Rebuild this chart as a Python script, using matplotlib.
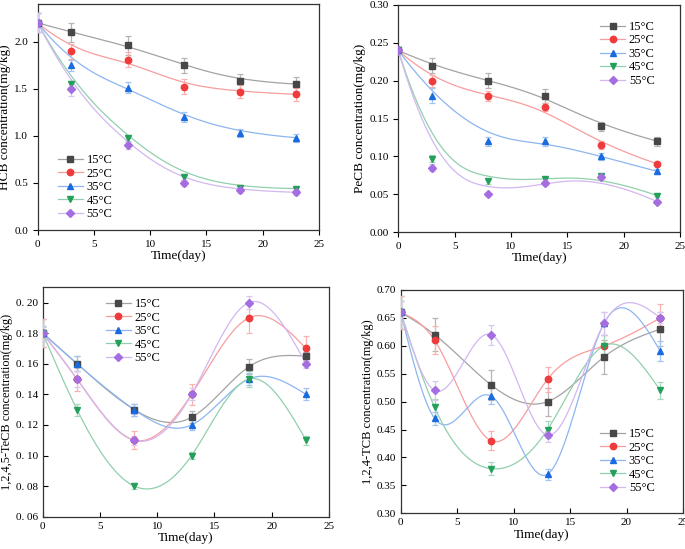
import numpy as np
import matplotlib
matplotlib.use('Agg')
import matplotlib.pyplot as plt
import matplotlib.colors as mpcolors

plt.rcParams['font.family'] = ['Liberation Serif', 'DejaVu Serif']

days = [0, 3, 8, 13, 18, 23]
temps = ['15°C', '25°C', '35°C', '45°C', '55°C']

# HCB
hcb = [[2.2, 2.1, 1.96, 1.75, 1.58, 1.55],
       [2.2, 1.9, 1.81, 1.52, 1.47, 1.44],
       [2.2, 1.75, 1.51, 1.2, 1.03, 0.98],
       [2.2, 1.55, 0.98, 0.56, 0.45, 0.44],
       [2.2, 1.5, 0.9, 0.5, 0.42, 0.4]]
hcb_err = [[0.1, 0.1, 0.1, 0.08, 0.08, 0.07],
           [0.1, 0.08, 0.08, 0.08, 0.07, 0.07],
           [0.1, 0.06, 0.06, 0.05, 0.04, 0.04],
           [0.1, 0.03, 0.03, 0.03, 0.02, 0.02],
           [0.1, 0.08, 0.04, 0.03, 0.03, 0.03]]

# PeCB
pecb = [[0.24, 0.22, 0.20, 0.18, 0.14, 0.12],
        [0.24, 0.20, 0.18, 0.165, 0.115, 0.09],
        [0.24, 0.18, 0.12, 0.12, 0.10, 0.08],
        [0.24, 0.097, 0.067, 0.07, 0.074, 0.048],
        [0.24, 0.085, 0.05, 0.065, 0.073, 0.04]]
pecb_err = [[0.005, 0.01, 0.01, 0.009, 0.006, 0.006],
            [0.005, 0.008, 0.007, 0.005, 0.005, 0.003],
            [0.005, 0.01, 0.006, 0.006, 0.005, 0.003],
            [0.005, 0.005, 0.003, 0.003, 0.003, 0.002],
            [0.005, 0.005, 0.002, 0.003, 0.003, 0.002]]

# 1,2,4,5-TeCB
tecb = [[0.18, 0.16, 0.13, 0.125, 0.158, 0.165],
        [0.18, 0.15, 0.11, 0.14, 0.19, 0.17],
        [0.18, 0.16, 0.13, 0.12, 0.15, 0.14],
        [0.18, 0.13, 0.08, 0.10, 0.15, 0.11],
        [0.18, 0.15, 0.11, 0.14, 0.20, 0.16]]
tecb_err = [[0.009, 0.005, 0.004, 0.004, 0.005, 0.003],
            [0.009, 0.008, 0.006, 0.007, 0.01, 0.008],
            [0.005, 0.005, 0.004, 0.003, 0.004, 0.004],
            [0.004, 0.004, 0.002, 0.002, 0.005, 0.003],
            [0.005, 0.005, 0.003, 0.004, 0.004, 0.003]]

# 1,2,4-TCB
tcb = [[0.66, 0.62, 0.53, 0.50, 0.58, 0.63],
       [0.66, 0.61, 0.43, 0.54, 0.60, 0.65],
       [0.66, 0.47, 0.51, 0.37, 0.64, 0.59],
       [0.66, 0.49, 0.38, 0.45, 0.60, 0.52],
       [0.66, 0.52, 0.62, 0.44, 0.64, 0.65]]
tcb_err = [[0.03, 0.03, 0.027, 0.025, 0.03, 0.03],
           [0.03, 0.025, 0.017, 0.022, 0.02, 0.025],
           [0.02, 0.012, 0.015, 0.01, 0.02, 0.018],
           [0.02, 0.015, 0.012, 0.015, 0.02, 0.016],
           [0.02, 0.017, 0.018, 0.012, 0.02, 0.01]]

colors = ['#474747', '#ef3b3b', '#1a6be0', '#23a05a', '#a46ee0']
markers = ['s', 'o', '^', 'v', 'D']
msizes = [4.2, 4.6, 4.8, 4.8, 3.8]


def tint(c, f):
    r = np.array(mpcolors.to_rgb(c))
    return tuple(r * f + (1 - f))


def bspline(x, y, n=300):
    # clamped cubic B-spline with the data as control points
    p = np.column_stack([x, y]).astype(float)
    m = len(p)
    k = 3
    knots = np.concatenate([np.zeros(k), np.linspace(0, 1, m - k + 1), np.ones(k)])
    t = np.linspace(0, 1, n)
    t[-1] = 1 - 1e-9
    B = np.zeros((n, len(knots) - 1))
    for i in range(len(knots) - 1):
        B[:, i] = (t >= knots[i]) & (t < knots[i + 1])
    for d in range(1, k + 1):
        Bn = np.zeros((n, len(knots) - 1 - d))
        for i in range(len(knots) - 1 - d):
            a = knots[i + d] - knots[i]
            b = knots[i + d + 1] - knots[i + 1]
            left = (t - knots[i]) / a * B[:, i] if a > 0 else 0
            right = (knots[i + d + 1] - t) / b * B[:, i + 1] if b > 0 else 0
            Bn[:, i] = left + right
        B = Bn
    c = B @ p
    return c[:, 0], c[:, 1]


def cspline(x, y, n=300):
    # natural cubic spline through the points
    x = np.asarray(x, float)
    y = np.asarray(y, float)
    m = len(x)
    h = np.diff(x)
    A = np.zeros((m, m))
    r = np.zeros(m)
    A[0, 0] = A[-1, -1] = 1
    for i in range(1, m - 1):
        A[i, i - 1] = h[i - 1]
        A[i, i] = 2 * (h[i - 1] + h[i])
        A[i, i + 1] = h[i]
        r[i] = 3 * ((y[i + 1] - y[i]) / h[i] - (y[i] - y[i - 1]) / h[i - 1])
    cc = np.linalg.solve(A, r)
    xs = np.linspace(x[0], x[-1], n)
    idx = np.clip(np.searchsorted(x, xs) - 1, 0, m - 2)
    dx = xs - x[idx]
    bb = (y[idx + 1] - y[idx]) / h[idx] - h[idx] * (2 * cc[idx] + cc[idx + 1]) / 3
    dd = (cc[idx + 1] - cc[idx]) / (3 * h[idx])
    ys = y[idx] + bb * dx + cc[idx] * dx ** 2 + dd * dx ** 3
    return xs, ys


def panel(ax, data, errs, smooth, ylim, yticks, ylabel, ylfs, tickdir, legpos, ytfmt):
    for i in range(5):
        cx, cy = smooth(days, data[i])
        ax.plot(cx, cy, color=tint(colors[i], 0.5), lw=0.9, zorder=2)
        ax.errorbar(days, data[i], yerr=errs[i], fmt='none', ecolor=tint(colors[i], 0.4),
                    elinewidth=0.9, capsize=2.5, capthick=0.9, zorder=3)
        ax.plot(days, data[i], ls='none', marker=markers[i], ms=msizes[i],
                color=colors[i], zorder=4)
        # legend proxy
        ax.plot([], [], color=tint(colors[i], 0.5), lw=0.9, marker=markers[i],
                ms=msizes[i], mfc=colors[i], mec=colors[i], label=temps[i])
    ax.set_xlim(0, 25)
    ax.set_ylim(*ylim)
    ax.set_xticks([0, 5, 10, 15, 20, 25])
    ax.set_yticks(yticks)
    ax.set_yticklabels([ytfmt(v) for v in yticks])
    ax.tick_params(direction=tickdir, length=3.5, width=0.8, labelsize=8)
    for s in ax.spines.values():
        s.set_linewidth(0.9)
        s.set_color('#333333')
    ax.set_xlabel('Time(day)', fontsize=9.5, labelpad=1)
    ax.set_ylabel(ylabel, fontsize=ylfs, labelpad=2)
    h, l = ax.get_legend_handles_labels()
    leg = ax.legend(h[-5:], l[-5:], loc='upper left', bbox_to_anchor=legpos,
                    frameon=False, fontsize=9, handlelength=2.0, handletextpad=0.3,
                    labelspacing=0.12, borderpad=0, borderaxespad=0)
    return leg


fig = plt.figure(figsize=(6.85, 5.49), dpi=100)
ax1 = fig.add_axes([0.055, 0.581, 0.4107, 0.4117])
ax2 = fig.add_axes([0.5815, 0.5774, 0.4112, 0.4135])
ax3 = fig.add_axes([0.0623, 0.0588, 0.4180, 0.4179])
ax4 = fig.add_axes([0.585, 0.065, 0.4121, 0.4068])

panel(ax1, hcb, hcb_err, bspline, (0, 2.4), [0.0, 0.5, 1.0, 1.5, 2.0],
      'HCB concentration(mg/kg)', 9.5, 'out', (0.072, 0.336), lambda v: f'{v:.1f}')
panel(ax2, pecb, pecb_err, bspline, (0, 0.30), [0.0, 0.05, 0.10, 0.15, 0.20, 0.25, 0.30],
      'PeCB concentration(mg/kg)', 9.5, 'out', (0.716, 0.93), lambda v: f'{v:.2f}')
panel(ax3, tecb, tecb_err, cspline, (0.06, 0.21), [0.06, 0.08, 0.10, 0.12, 0.14, 0.16, 0.18, 0.20],
      '1,2,4,5-TeCB concentration(mg/kg)', 8.8, 'in', (0.221, 0.953),
      lambda v: f'{v:.2f}'.replace('.', '. '))
panel(ax4, tcb, tcb_err, cspline, (0.30, 0.70), [0.30, 0.35, 0.40, 0.45, 0.50, 0.55, 0.60, 0.65, 0.70],
      '1,2,4-TCB concentration(mg/kg)', 9, 'in', (0.706, 0.382), lambda v: f'{v:.2f}')

fig.savefig('out.png', dpi=100)
